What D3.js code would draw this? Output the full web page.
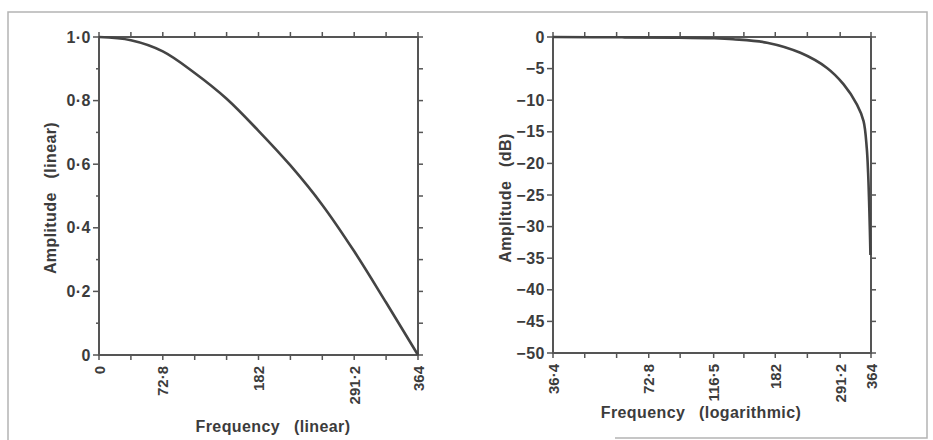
<!DOCTYPE html>
<html>
<head>
<meta charset="utf-8">
<script src="https://cdn.jsdelivr.net/npm/d3@7"></script>
<style>
  body { margin: 0; background: #fff; }
  svg text { font-family: "Liberation Sans", Arial, sans-serif; font-weight: bold; fill: #3c3c3c; }
</style>
</head>
<body>
<div id="chart"></div>
<script>
    // left panel: amplitude (linear) vs frequency (linear)
    var linFreq = [0, 36.4, 72.8, 109.2, 145.6, 182, 218.4, 254.8, 291.2, 327.6, 364]
    var linAmp = [1.0, 0.99, 0.955, 0.887, 0.806, 0.705, 0.596, 0.472, 0.326, 0.165, 0.0]
    var linXTicks = [0, 36.4, 72.8, 109.2, 145.6, 182, 218.4, 254.8, 291.2, 327.6, 364]
    var linXLabels = [0, 72.8, 182, 291.2, 364]
    var linYTicks = [0, 0.1, 0.2, 0.3, 0.4, 0.5, 0.6, 0.7, 0.8, 0.9, 1.0]
    var linYLabels = [0, 0.2, 0.4, 0.6, 0.8, 1.0]

    // right panel: amplitude (dB) vs frequency (logarithmic)
    var logFreq = [36.4, 60, 90, 116.5, 134, 171.5, 218.3, 264.7, 298.6, 328.9, 344.9, 353, 356.5, 359, 361, 362.5]
    var logDb = [0, -0.05, -0.1, -0.2, -0.35, -0.9, -2.5, -4.9, -7.5, -10.7, -13.3, -17.6, -21.5, -26, -30.5, -34.5]
    var logXTicks = [36.4, 45.8, 57.7, 72.8, 91.4, 116.5, 145, 182, 229.6, 291.2, 364]
    var logXLabels = [36.4, 72.8, 116.5, 182, 291.2, 364]
    var dbTicks = [0, -5, -10, -15, -20, -25, -30, -35, -40, -45, -50]

    var width = 933
    var height = 440
    var ink = '#555'

    var svg = d3.select('#chart')
        .append('svg')
        .attr('width', width)
        .attr('height', height)

    // scanned page border
    svg.append('path')
        .attr('d', 'M8,440 L8,12 L927,12 L927,438 L615,438')
        .attr('fill', 'none')
        .attr('stroke', '#b4b4b4')
        .attr('stroke-width', 1.5)

    function fmt(v) {
        return String(v).replace('.', '·').replace('-', '−')
    }
    function fmtOne(v) {
        return v === 0 ? '0' : d3.format('.1f')(v).replace('.', '·')
    }

    function drawPanel(opt) {
        var x = opt.x, y = opt.y
        var g = svg.append('g')
        var x0 = x.range()[0], x1 = x.range()[1]
        var y0 = y.range()[0], y1 = y.range()[1]

        // ticks, all pointing outward
        opt.xTicks.forEach(function (t) {
            var px = x(t)
            g.append('line').attr('x1', px).attr('x2', px).attr('y1', y0).attr('y2', y0 + 5)
                .attr('stroke', ink).attr('stroke-width', 1.5)
            g.append('line').attr('x1', px).attr('x2', px).attr('y1', y1).attr('y2', y1 - 5)
                .attr('stroke', ink).attr('stroke-width', 1.5)
        })
        opt.yTicks.forEach(function (t) {
            var py = y(t)
            var major = opt.yLabels.indexOf(t) >= 0
            g.append('line').attr('x1', x0).attr('x2', x0 - (major ? 6 : 3)).attr('y1', py).attr('y2', py)
                .attr('stroke', ink).attr('stroke-width', 1.5)
            g.append('line').attr('x1', x1).attr('x2', x1 + 5).attr('y1', py).attr('y2', py)
                .attr('stroke', ink).attr('stroke-width', 1.5)
        })

        // frame
        g.append('rect')
            .attr('x', x0).attr('y', y1)
            .attr('width', x1 - x0).attr('height', y0 - y1)
            .attr('fill', 'none').attr('stroke', ink).attr('stroke-width', 2)

        // tick labels
        opt.xLabels.forEach(function (t) {
            g.append('text')
                .attr('transform', 'translate(' + (x(t) + 5.5) + ',' + (y0 + 11) + ') rotate(-90)')
                .attr('text-anchor', 'end')
                .style('font-size', '15px')
                .text(fmt(t))
        })
        opt.yLabels.forEach(function (t) {
            g.append('text')
                .attr('x', x0 - 8).attr('y', y(t) + 5.5)
                .attr('text-anchor', 'end')
                .style('font-size', '16px')
                .style('letter-spacing', '0.5px')
                .text(opt.yFmt(t))
        })

        // axis titles
        g.append('text')
            .attr('x', opt.xTitlePos[0]).attr('y', opt.xTitlePos[1])
            .attr('text-anchor', 'middle')
            .style('font-size', '16px')
            .style('letter-spacing', '0.4px')
            .style('word-spacing', '9px')
            .text(opt.xTitle)
        g.append('text')
            .attr('transform', 'translate(' + opt.yTitlePos[0] + ',' + opt.yTitlePos[1] + ') rotate(-90)')
            .attr('text-anchor', 'middle')
            .style('font-size', '16px')
            .style('letter-spacing', '0.4px')
            .style('word-spacing', '9px')
            .text(opt.yTitle)

        // the response curve
        var line = d3.line()
            .x(function (d) { return x(d[0]) })
            .y(function (d) { return y(d[1]) })
            .curve(d3.curveCatmullRom.alpha(0.5))
        g.append('path')
            .datum(d3.zip(opt.xs, opt.ys))
            .attr('d', line)
            .attr('fill', 'none')
            .attr('stroke', '#444')
            .attr('stroke-width', 2.6)
    }

    drawPanel({
        x: d3.scaleLinear().domain([0, 364]).range([99, 418]),
        y: d3.scaleLinear().domain([0, 1]).range([355, 37]),
        xTicks: linXTicks, xLabels: linXLabels,
        yTicks: linYTicks, yLabels: linYLabels, yFmt: fmtOne,
        xs: linFreq, ys: linAmp,
        xTitle: 'Frequency (linear)', xTitlePos: [273, 432],
        yTitle: 'Amplitude (linear)', yTitlePos: [56, 198]
    })

    drawPanel({
        x: d3.scaleLog().domain([36.4, 364]).range([553, 871]),
        y: d3.scaleLinear().domain([-50, 0]).range([353, 37]),
        xTicks: logXTicks, xLabels: logXLabels,
        yTicks: dbTicks, yLabels: dbTicks, yFmt: fmt,
        xs: logFreq, ys: logDb,
        xTitle: 'Frequency (logarithmic)', xTitlePos: [701, 418],
        yTitle: 'Amplitude (dB)', yTitlePos: [511, 198]
    })
</script>
</body>
</html>
